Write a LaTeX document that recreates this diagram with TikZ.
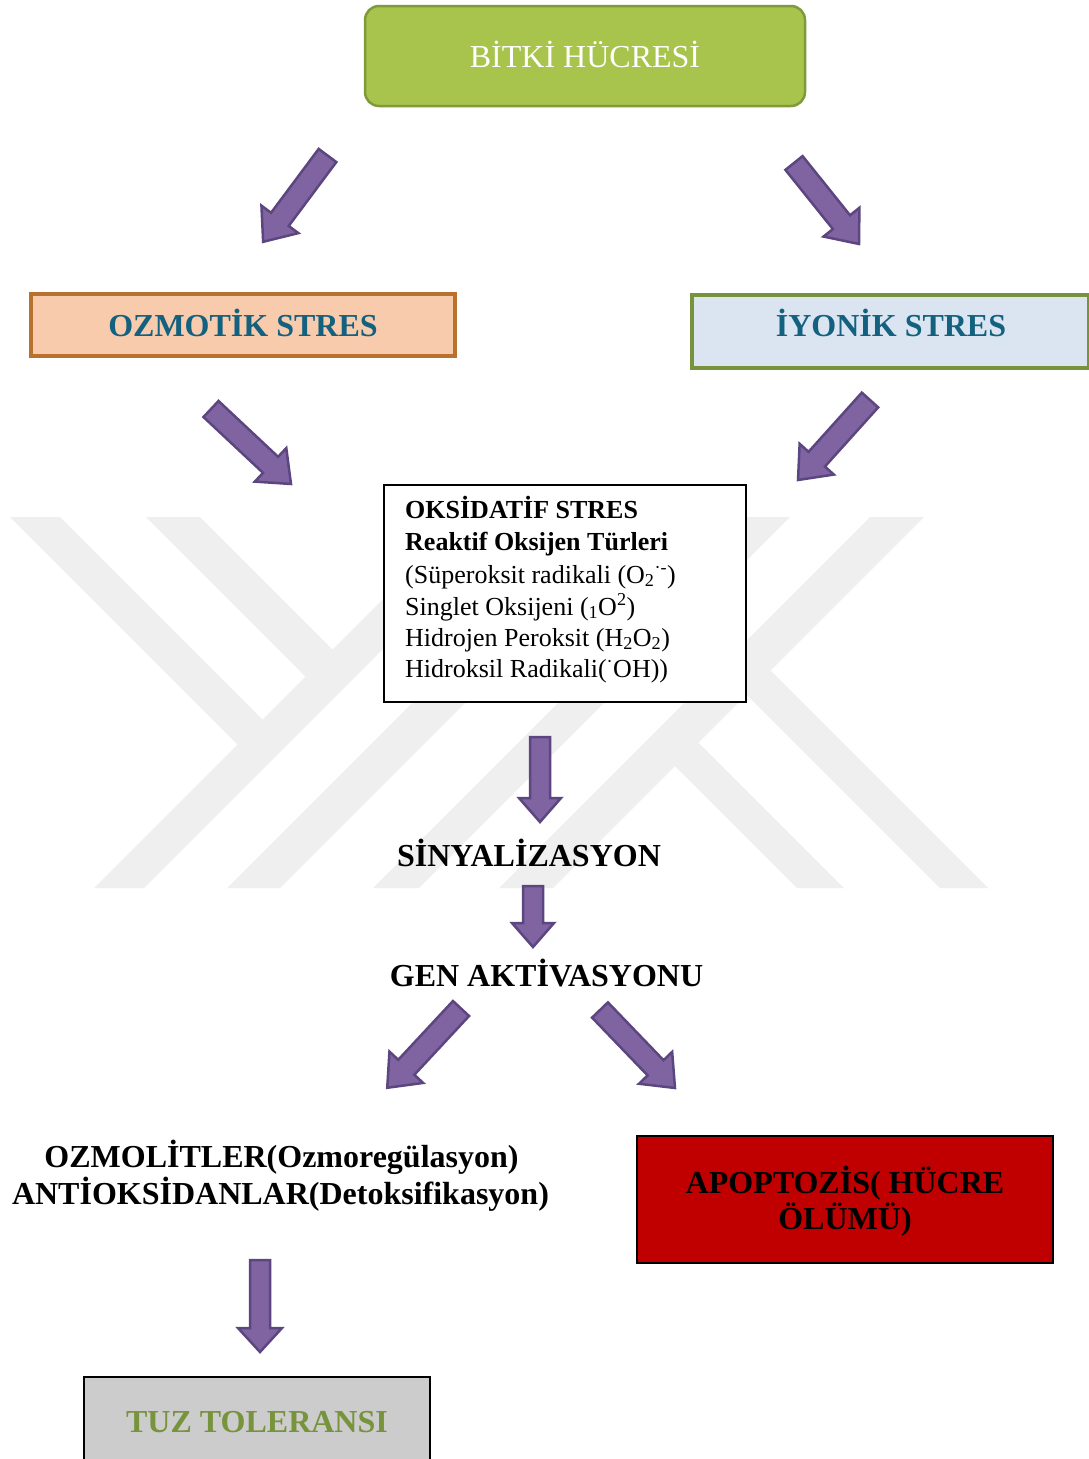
\documentclass[tikz,border=0pt]{standalone}
\usepackage{fontspec}
\setmainfont{Liberation Serif}
\definecolor{bitkifill}{HTML}{A8C44C}
\definecolor{bitkiline}{HTML}{7E9A3A}
\definecolor{ozfill}{HTML}{F8CBAD}
\definecolor{ozline}{HTML}{B8712F}
\definecolor{iyfill}{HTML}{DBE5F1}
\definecolor{iyline}{HTML}{77933C}
\definecolor{tealtext}{HTML}{13617E}
\definecolor{arrfill}{HTML}{8064A2}
\definecolor{arrline}{HTML}{5C4680}
\definecolor{apofill}{HTML}{C00000}
\definecolor{tuzfill}{HTML}{CCCCCC}
\definecolor{tuztext}{HTML}{77933C}
\definecolor{wmark}{HTML}{EFEFEF}

% block arrow: tail x, tail y, tip x, tip y, half shaft, half head, head length
\newcommand{\blockarrow}[7]{%
  \pgfmathsetmacro\baang{atan2(-(#4-#2),#3-#1)}%
  \pgfmathsetmacro\balen{veclen(#3-#1,#4-#2)}%
  \pgfmathsetmacro\babase{\balen-#7}%
  \begin{scope}[shift={(#1,#2)},rotate=\baang]
    \filldraw[purplearrow] (0,-#5) -- (\babase,-#5) -- (\babase,-#6) -- (\balen,0)
      -- (\babase,#6) -- (\babase,#5) -- (0,#5) -- cycle;
  \end{scope}}

\begin{document}
\begin{tikzpicture}[x=1pt,y=-1pt,
  purplearrow/.style={fill=arrfill,draw=arrline,line width=2.5,line join=miter},
  plainbox/.style={inner sep=0,anchor=center},
  bigbold/.style={font=\fontsize{32}{36}\selectfont\bfseries},
  okstext/.style={font=\fontsize{26}{32}\selectfont,anchor=base west,inner sep=0},
  okstextb/.style={okstext,font=\fontsize{26}{32}\selectfont\bfseries},
  linelabel/.style={bigbold,anchor=base,inner sep=0}]
\useasboundingbox (0,0) rectangle (1089,1459);
\clip (0,0) rectangle (1089,1459);
\fill[white] (0,0) rectangle (1089,1459);

% ---- watermark ----
\begin{scope}
  \clip (0,517) rectangle (1089,888);
  \fill[wmark] (465,517) -- (515,517) -- (144,888) -- (94,888) -- cycle;
  \fill[wmark] (598,517) -- (651,517) -- (280,888) -- (227,888) -- cycle;
  \fill[wmark] (744,517) -- (790,517) -- (419,888) -- (373,888) -- cycle;
  \fill[wmark] (10,517) -- (60,517) -- (266.5,723.5) -- (241.5,748.5) -- cycle;
  \fill[wmark] (146,517) -- (200,517) -- (336.5,653.5) -- (309.5,680.5) -- cycle;
  \fill[wmark] (870,517) -- (924,517) -- (553,888) -- (499,888) -- cycle;
  \fill[wmark] (742.5,690.5) -- (766.5,666.5) -- (988,888) -- (940,888) -- cycle;
  \fill[wmark] (671,762) -- (694.5,738.5) -- (844,888) -- (797,888) -- cycle;
\end{scope}

% ---- boxes ----
\node[plainbox,draw=bitkiline,fill=bitkifill,line width=2.5,rounded corners=14,
      minimum width=440,minimum height=100] (bitki) at (585,56) {};
\node[inner sep=0,anchor=base,text=white,font=\fontsize{32}{36}\selectfont]
      (bitkit) at (585,67) {BİTKİ HÜCRESİ};

\node[plainbox,draw=ozline,fill=ozfill,line width=4.5,
      minimum width=424,minimum height=62] (ozm) at (243,325) {};
\node[linelabel,text=tealtext] (ozmt) at (243,336) {OZMOTİK STRES};

\node[plainbox,draw=iyline,fill=iyfill,line width=4,
      minimum width=397,minimum height=73] (iyon) at (890.5,331.5) {};
\node[linelabel,text=tealtext] (iyont) at (891,336) {İYONİK STRES};

\node[plainbox,draw=black,fill=white,line width=2,
      minimum width=362,minimum height=217] (oks) at (564.5,593) {};
\node[okstextb] (oks1) at (405,518) {OKSİDATİF STRES};
\node[okstextb] (oks2) at (405,550) {Reaktif Oksijen Türleri};
\node[okstext] (oks3) at (405,583) {(Süperoksit radikali (O\textsubscript{2}\textsuperscript{·-})};
\node[okstext] (oks4) at (405,615) {Singlet Oksijeni (\textsubscript{1}O\textsuperscript{2})};
\node[okstext] (oks5) at (405,646) {Hidrojen Peroksit (H\textsubscript{2}O\textsubscript{2})};
\node[okstext] (oks6) at (405,677) {Hidroksil Radikali(\textsuperscript{·}OH))};

\node[linelabel] (sinyal) at (529,866) {SİNYALİZASYON};
\node[linelabel] (gen) at (546.5,986) {GEN AKTİVASYONU};

\node[linelabel] (ozml1) at (281.5,1167) {OZMOLİTLER(Ozmoregülasyon)};
\node[linelabel] (ozml2) at (280.5,1204) {ANTİOKSİDANLAR(Detoksifikasyon)};

\node[plainbox,draw=black,fill=apofill,line width=2.5,
      minimum width=416,minimum height=127] (apo) at (845,1199.5) {};
\node[linelabel] (apo1) at (845,1193) {APOPTOZİS( HÜCRE};
\node[linelabel] (apo2) at (845,1229) {ÖLÜMÜ)};

\node[plainbox,draw=black,fill=tuzfill,line width=2.5,
      minimum width=346,minimum height=120] (tuz) at (257,1437) {};
\node[inner sep=0,anchor=base,text=tuztext,font=\fontsize{32}{36}\selectfont\bfseries]
      (tuzt) at (257,1432) {TUZ TOLERANSI};

% ---- block arrows ----
\blockarrow{327.5}{155.5}{263}{242}{11}{23}{28}
\blockarrow{794}{163}{859}{244}{11}{23}{28}
\blockarrow{211}{409}{291}{484}{11}{23}{28}
\blockarrow{870}{400}{798}{480}{11}{23}{28}
\blockarrow{540}{737}{540}{822}{10}{21}{24}
\blockarrow{533}{886}{533}{947}{10}{21}{24}
\blockarrow{461}{1008.5}{387}{1088}{11}{23}{28}
\blockarrow{600}{1010}{675}{1088}{11}{23}{28}
\blockarrow{260}{1260}{260}{1352}{10}{22}{24}
\end{tikzpicture}
\end{document}
